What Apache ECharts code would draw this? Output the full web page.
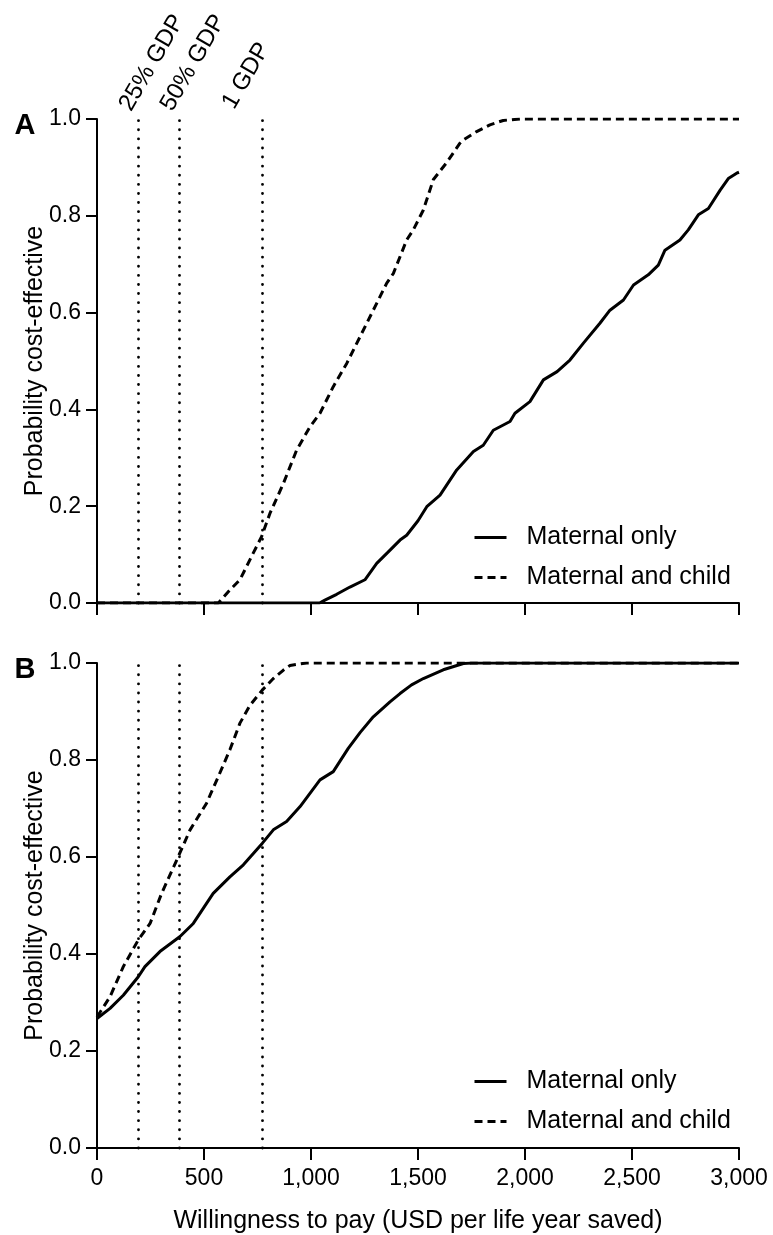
<!DOCTYPE html>
<html>
<head>
<meta charset="utf-8">
<script src="https://cdn.jsdelivr.net/npm/echarts@6/dist/echarts.min.js"></script>
<style>
html,body{margin:0;padding:0;background:#fff;}
#chart{width:773px;height:1235px;}
</style>
</head>
<body>
<div id="chart"></div>
<script>
// ---------- data ----------
var seriesNames = ['Maternal only', 'Maternal and child'];
var xTicks = [0, 500, 1000, 1500, 2000, 2500, 3000];
var yTicks = [0, 0.2, 0.4, 0.6, 0.8, 1.0];
var gdpLabels = ['25% GDP', '50% GDP', '1 GDP'];
var gdpValues = [193, 386, 772];

// Panel A
var wtpA_maternal = [0, 500, 1000, 1040, 1065, 1120, 1182, 1252, 1307, 1360, 1416, 1447, 1500, 1541, 1603, 1681, 1759, 1805, 1852, 1930, 1953, 2023, 2086, 2150, 2210, 2273, 2350, 2397, 2460, 2507, 2576, 2623, 2654, 2724, 2763, 2810, 2857, 2912, 2950, 2989, 3000];
var probA_maternal = [0, 0, 0, 0, 0.006, 0.018, 0.033, 0.048, 0.082, 0.105, 0.13, 0.14, 0.17, 0.199, 0.223, 0.275, 0.313, 0.326, 0.357, 0.375, 0.392, 0.416, 0.461, 0.478, 0.502, 0.537, 0.578, 0.605, 0.626, 0.657, 0.678, 0.698, 0.729, 0.75, 0.771, 0.802, 0.815, 0.853, 0.877, 0.888, 0.89];
var wtpA_child = [0, 500, 567, 621, 668, 730, 769, 808, 871, 933, 995, 1042, 1104, 1167, 1229, 1291, 1354, 1385, 1447, 1478, 1525, 1572, 1634, 1696, 1712, 1774, 1836, 1898, 1977, 3000];
var probA_child = [0, 0, 0, 0.027, 0.048, 0.103, 0.137, 0.185, 0.247, 0.316, 0.364, 0.392, 0.447, 0.495, 0.55, 0.605, 0.661, 0.681, 0.75, 0.771, 0.812, 0.875, 0.91, 0.95, 0.957, 0.974, 0.988, 0.997, 1.0, 1.0];

// Panel B
var wtpB_maternal = [0, 61, 123, 193, 224, 294, 388, 450, 543, 621, 684, 772, 824, 886, 949, 1042, 1104, 1174, 1230, 1291, 1369, 1416, 1470, 1525, 1618, 1712, 1750, 3000];
var probB_maternal = [0.267, 0.288, 0.315, 0.353, 0.374, 0.405, 0.436, 0.463, 0.525, 0.559, 0.584, 0.628, 0.656, 0.673, 0.704, 0.759, 0.776, 0.824, 0.857, 0.889, 0.92, 0.937, 0.955, 0.968, 0.986, 0.999, 1.0, 1.0];
var wtpB_child = [0, 61, 123, 193, 248, 302, 380, 435, 512, 567, 621, 668, 715, 772, 824, 870, 902, 980, 3000];
var probB_child = [0.27, 0.312, 0.374, 0.429, 0.463, 0.525, 0.601, 0.656, 0.711, 0.766, 0.821, 0.876, 0.913, 0.944, 0.968, 0.985, 0.995, 1.0, 1.0];

// ---------- chart ----------
var FONT = "'Liberation Sans', Arial, Helvetica, sans-serif";
function zip(xs, ys) { return xs.map(function (x, i) { return [x, ys[i]]; }); }

var chart = echarts.init(document.getElementById('chart'), null, {renderer: 'canvas'});

function xAxisCfg(gridIndex, showLabels) {
  return {
    type: 'value', gridIndex: gridIndex, min: xTicks[0], max: xTicks[xTicks.length - 1], interval: 500,
    axisLine: {show: true, onZero: false, lineStyle: {color: '#000', width: 2}},
    axisTick: {show: true, length: 12, lineStyle: {color: '#000', width: 2}},
    splitLine: {show: false},
    axisLabel: {show: showLabels, margin: 19, color: '#000', fontSize: 23, fontFamily: FONT,
      formatter: function (v) { return v.toLocaleString('en-US'); }},
    name: showLabels ? 'Willingness to pay (USD per life year saved)' : '',
    nameLocation: 'middle', nameGap: 61, nameMoveOverlap: false,
    nameTextStyle: {color: '#000', fontSize: 25, fontFamily: FONT}
  };
}
function yAxisCfg(gridIndex) {
  return {
    type: 'value', gridIndex: gridIndex, min: yTicks[0], max: yTicks[yTicks.length - 1], interval: 0.2,
    axisLine: {show: true, lineStyle: {color: '#000', width: 2}},
    axisTick: {show: true, length: 11, lineStyle: {color: '#000', width: 2}},
    splitLine: {show: false},
    axisLabel: {margin: 16, color: '#000', fontSize: 23, fontFamily: FONT,
      formatter: function (v) { return v.toFixed(1); }},
    name: 'Probability cost-effective', nameLocation: 'middle', nameGap: 49, nameMoveOverlap: false,
    nameTextStyle: {color: '#000', fontSize: 25, fontFamily: FONT}
  };
}

var dottedStyle = {color: '#000', width: 2.8, type: [0.1, 9], cap: 'round'};
function gdpMarkLine() {
  return {
    silent: true, symbol: ['none', 'none'], animation: false,
    label: {show: false},
    lineStyle: dottedStyle,
    data: gdpValues.map(function (v) { return {xAxis: v}; })
  };
}
var solidStyle = {color: '#000', width: 3, type: 'solid'};
var dashedStyle = {color: '#000', width: 3, type: [8, 5]};

function lineSeries(name, data, gi, style, withMarks) {
  var s = {
    name: name, type: 'line', xAxisIndex: gi, yAxisIndex: gi, data: data,
    symbol: 'none', showSymbol: false, smooth: false, animation: false,
    itemStyle: {color: '#000'},
    lineStyle: style
  };
  if (withMarks) s.markLine = gdpMarkLine();
  return s;
}

function legendCfg(top) {
  return {
    orient: 'vertical', left: 473, top: top, padding: 0,
    itemWidth: 32, itemHeight: 1, itemGap: 15,
    data: seriesNames,
    lineStyle: {width: 3},
    textStyle: {color: '#000', fontSize: 25, fontFamily: FONT, padding: [0, 0, 0, 15]},
    selectedMode: false
  };
}

var option = {
  backgroundColor: '#fff',
  animation: false,
  grid: [
    {left: 97, top: 119, width: 642, height: 484},
    {left: 97, top: 663, width: 642, height: 485}
  ],
  xAxis: [xAxisCfg(0, false), xAxisCfg(1, true)],
  yAxis: [yAxisCfg(0), yAxisCfg(1)],
  legend: [legendCfg(525), legendCfg(1069)],
  series: [
    lineSeries(seriesNames[0], zip(wtpA_maternal, probA_maternal), 0, solidStyle, true),
    lineSeries(seriesNames[1], zip(wtpA_child, probA_child), 0, dashedStyle, false),
    lineSeries(seriesNames[0], zip(wtpB_maternal, probB_maternal), 1, solidStyle, true),
    lineSeries(seriesNames[1], zip(wtpB_child, probB_child), 1, dashedStyle, false)
  ]
};
chart.setOption(option);

// annotations positioned through the axes
var gdpLabelOffsets = [[-13, -10], [-13, -10], [-34, -12]];
var graphics = [];
gdpValues.forEach(function (v, i) {
  var p = chart.convertToPixel({gridIndex: 0}, [v, 1]);
  graphics.push({
    type: 'text', x: p[0] + gdpLabelOffsets[i][0], y: p[1] + gdpLabelOffsets[i][1],
    rotation: Math.PI / 3, silent: true,
    style: {text: gdpLabels[i], fill: '#000', font: '24px ' + FONT, textAlign: 'left', textVerticalAlign: 'middle'}
  });
});
['A', 'B'].forEach(function (t, i) {
  var p = chart.convertToPixel({gridIndex: i}, [0, 1]);
  graphics.push({
    type: 'text', x: 25, y: p[1] + 7, silent: true,
    style: {text: t, fill: '#000', font: 'bold 29px ' + FONT, textAlign: 'center', textVerticalAlign: 'middle'}
  });
});
chart.setOption({graphic: graphics});
</script>
</body>
</html>
